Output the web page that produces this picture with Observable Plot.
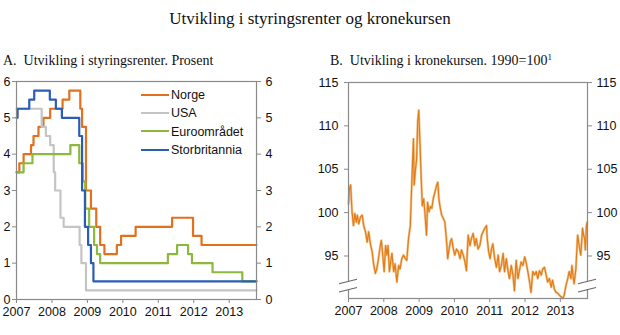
<!DOCTYPE html>
<html>
<head>
<meta charset="utf-8">
<script src="https://cdn.jsdelivr.net/npm/d3@7"></script>
<script src="https://cdn.jsdelivr.net/npm/@observablehq/plot@0.6"></script>
<style>
  html, body { margin: 0; padding: 0; background: #fff; }
  #wrap { position: relative; width: 620px; height: 335px; overflow: hidden; font-family: "Liberation Sans", Arial, sans-serif; }
  .title { position: absolute; left: 0; width: 620px; top: 9px; text-align: center; font-family: "Liberation Serif", "Times New Roman", serif; font-size: 17px; color: #111; }
  .ptitle { position: absolute; top: 53px; font-family: "Liberation Serif", "Times New Roman", serif; font-size: 14px; color: #111; white-space: nowrap; }
  .ptitle sup { font-size: 9px; vertical-align: 5px; line-height: 0; }
  .panel { position: absolute; top: 70px; }
  .legend { position: absolute; left: 141px; top: 86px; font-size: 12.5px; color: #111; }
  .legend .row { position: relative; height: 18.4px; line-height: 18.4px; white-space: nowrap; }
  .legend .sw { display: inline-block; width: 28px; height: 2px; vertical-align: middle; margin-right: 2px; position: relative; top: -1px; }
</style>
</head>
<body>
<div id="wrap">
  <div class="title">Utvikling i styringsrenter og kronekursen</div>
  <div class="ptitle" style="left:3px">A.&nbsp;&nbsp;Utvikling i styringsrenter. Prosent</div>
  <div class="ptitle" style="left:330px">B.&nbsp;&nbsp;Utvikling i kronekursen. 1990=100<sup>1</sup></div>
  <div class="panel" id="pa" style="left:0px"></div>
  <div class="panel" id="pb" style="left:310px"></div>
  <div class="legend" id="legend"></div>
</div>
<script>
// ---------- Panel A: policy rates (step series) ----------
const seriesNames = ["Norge", "USA", "Euroområdet", "Storbritannia"];
const seriesColors = ["#e2711d", "#c4c4c4", "#8db83e", "#2a5db8"];

const norgeDates = [2007.0, 2007.08, 2007.2, 2007.41, 2007.48, 2007.62, 2007.76, 2007.95, 2008.30, 2008.49, 2008.80, 2008.85, 2008.96, 2009.10, 2009.25, 2009.36, 2009.48, 2009.83, 2009.95, 2010.36, 2011.39, 2011.98, 2012.22, 2013.77];
const norgeRates = [3.5, 3.75, 4.0, 4.25, 4.5, 4.75, 5.0, 5.25, 5.5, 5.75, 5.25, 4.75, 3.0, 2.5, 2.0, 1.5, 1.25, 1.5, 1.75, 2.0, 2.25, 1.75, 1.5, 1.5];

const usaDates = [2007.0, 2007.71, 2007.83, 2007.95, 2008.05, 2008.09, 2008.24, 2008.33, 2008.78, 2008.83, 2008.96, 2013.77];
const usaRates = [5.25, 4.75, 4.5, 4.25, 3.5, 3.0, 2.25, 2.0, 1.5, 1.0, 0.25, 0.25];

const euroDates = [2007.0, 2007.2, 2007.45, 2008.52, 2008.77, 2008.87, 2008.94, 2009.05, 2009.19, 2009.27, 2009.36, 2011.27, 2011.53, 2011.84, 2011.95, 2012.53, 2013.37, 2013.77];
const euroRates = [3.5, 3.75, 4.0, 4.25, 3.75, 3.25, 2.5, 2.0, 1.5, 1.25, 1.0, 1.25, 1.5, 1.25, 1.0, 0.75, 0.5, 0.5];

const ukDates = [2007.0, 2007.03, 2007.36, 2007.5, 2007.94, 2008.11, 2008.28, 2008.77, 2008.85, 2008.93, 2009.02, 2009.10, 2009.17, 2013.77];
const ukRates = [5.0, 5.25, 5.5, 5.75, 5.5, 5.25, 5.0, 4.5, 3.0, 2.0, 1.5, 1.0, 0.5, 0.5];

const rateTicks = [0, 1, 2, 3, 4, 5, 6];
const yearTicks = [2007, 2008, 2009, 2010, 2011, 2012, 2013];

// ---------- Panel B: krone exchange rate index ----------
const kroneDates = [
2007.00, 2007.03, 2007.06, 2007.10, 2007.14, 2007.18, 2007.22, 2007.25, 2007.29, 2007.34,
2007.39, 2007.43, 2007.48, 2007.53, 2007.57, 2007.62, 2007.67, 2007.71, 2007.76, 2007.80,
2007.85, 2007.90, 2007.93, 2007.97, 2008.01, 2008.05, 2008.09, 2008.12, 2008.16, 2008.20,
2008.23, 2008.28, 2008.32, 2008.37, 2008.42, 2008.46, 2008.51, 2008.56, 2008.61, 2008.65,
2008.70, 2008.75, 2008.77, 2008.81, 2008.84, 2008.86, 2008.89, 2008.93, 2008.96, 2008.99,
2009.02, 2009.06, 2009.09, 2009.13, 2009.17, 2009.21, 2009.24, 2009.28, 2009.32, 2009.36,
2009.40, 2009.45, 2009.50, 2009.53, 2009.56, 2009.60, 2009.64, 2009.69, 2009.73, 2009.78,
2009.81, 2009.85, 2009.88, 2009.92, 2009.97, 2010.01, 2010.06, 2010.11, 2010.16, 2010.20,
2010.25, 2010.30, 2010.34, 2010.39, 2010.44, 2010.48, 2010.53, 2010.58, 2010.62, 2010.67,
2010.72, 2010.77, 2010.81, 2010.86, 2010.91, 2010.93, 2010.97, 2011.01, 2011.05, 2011.09,
2011.14, 2011.19, 2011.24, 2011.28, 2011.33, 2011.38, 2011.42, 2011.47, 2011.52, 2011.56,
2011.61, 2011.66, 2011.70, 2011.75, 2011.80, 2011.85, 2011.89, 2011.94, 2011.99, 2012.03,
2012.08, 2012.13, 2012.17, 2012.22, 2012.27, 2012.32, 2012.36, 2012.41, 2012.46, 2012.50,
2012.55, 2012.60, 2012.64, 2012.69, 2012.74, 2012.78, 2012.83, 2012.88, 2012.93, 2012.97,
2013.02, 2013.07, 2013.11, 2013.16, 2013.21, 2013.25, 2013.30, 2013.33, 2013.37, 2013.39,
2013.44, 2013.49, 2013.52, 2013.55, 2013.58, 2013.63, 2013.66, 2013.69, 2013.71, 2013.74,
2013.76];
const kroneIndex = [
101.0, 102.8, 103.2, 100.1, 98.5, 99.9, 98.9, 99.7, 98.7, 99.5,
99.7, 98.5, 97.8, 96.6, 97.8, 96.4, 95.5, 94.1, 93.0, 93.5,
94.7, 96.2, 96.8, 95.1, 93.2, 96.2, 95.1, 96.2, 93.2, 94.5,
95.3, 93.2, 94.1, 92.0, 93.9, 93.5, 94.7, 95.1, 94.7, 94.5,
97.0, 98.5, 100.8, 105.3, 108.5, 103.2, 104.7, 106.2, 110.5, 111.8,
108.5, 103.9, 100.8, 101.6, 99.7, 97.4, 101.2, 100.1, 100.7, 100.5,
101.6, 102.4, 103.2, 103.5, 101.6, 100.5, 99.7, 99.3, 98.9, 96.6,
94.7, 95.8, 96.6, 97.0, 95.8, 95.1, 95.8, 95.5, 94.7, 95.7,
95.1, 94.3, 93.3, 97.4, 96.2, 97.0, 97.6, 96.2, 97.0, 95.8,
96.2, 97.4, 97.8, 98.2, 98.5, 97.0, 95.5, 94.7, 95.8, 96.4,
94.7, 93.7, 95.1, 93.2, 93.9, 95.3, 93.2, 94.7, 93.2, 92.4,
93.9, 92.8, 91.0, 94.5, 92.4, 93.5, 94.3, 93.9, 94.9, 94.3,
93.2, 92.0, 90.8, 93.2, 92.8, 93.2, 92.4, 93.3, 92.8, 93.5,
93.7, 92.8, 92.0, 92.4, 91.4, 92.2, 91.2, 90.8, 90.7, 90.5,
90.3, 90.1, 90.5, 91.6, 92.4, 93.2, 92.4, 93.9, 92.4, 91.8,
93.5, 97.4, 96.6, 95.8, 95.1, 98.2, 97.4, 97.0, 95.7, 98.5,
98.9];
const indexTicks = [95, 100, 105, 110, 115];

// ---------- build ----------
const axisColor = "#8a8a8a";
const font = { fontFamily: "'Liberation Sans', Arial, sans-serif", fontSize: "12.5px", color: "#111", background: "transparent" };

function stepTable(dates, rates, name) {
  return dates.map((d, i) => ({ t: d, v: rates[i], s: name }));
}
const rateData = [
  ...stepTable(norgeDates, norgeRates, seriesNames[0]),
  ...stepTable(usaDates, usaRates, seriesNames[1]),
  ...stepTable(euroDates, euroRates, seriesNames[2]),
  ...stepTable(ukDates, ukRates, seriesNames[3])
];

const xEnd = 2013.77;

const plotA = Plot.plot({
  width: 310, height: 265,
  marginLeft: 16, marginRight: 54, marginTop: 11, marginBottom: 36,
  style: font,
  x: { domain: [2007, xEnd], label: null },
  y: { domain: [0, 6], label: null },
  color: { domain: seriesNames, range: seriesColors },
  marks: [
    Plot.line(rateData, { x: "t", y: "v", stroke: "s", z: "s", curve: "step-after", strokeWidth: 2.2 }),
    Plot.frame({ stroke: axisColor, strokeWidth: 1.2 }),
    Plot.axisY({ anchor: "left", ticks: rateTicks, tickSize: 4, tickPadding: 2, stroke: axisColor, tickFormat: "d", label: null }),
    Plot.axisY({ anchor: "right", ticks: rateTicks, tickSize: 4, tickPadding: 5, stroke: axisColor, tickFormat: "d", label: null }),
    Plot.axisX({ ticks: yearTicks, tickSize: 4, tickPadding: 4, stroke: axisColor, tickFormat: "d", label: null })
  ]
});
document.getElementById("pa").appendChild(plotA);

const kroneData = kroneDates.map((d, i) => ({ t: d, v: kroneIndex[i] }));

const plotB = Plot.plot({
  width: 310, height: 265,
  marginLeft: 38, marginRight: 33, marginTop: 12, marginBottom: 37,
  style: font,
  x: { domain: [2007, xEnd], label: null },
  y: { domain: [90.1, 115], label: null },
  marks: [
    Plot.line(kroneData, { x: "t", y: "v", stroke: "#f3c088", strokeWidth: 2.4 }),
    Plot.line(kroneData, { x: "t", y: "v", stroke: "#e07c16", strokeWidth: 1.1 }),
    Plot.frame({ stroke: axisColor, strokeWidth: 1.2 }),
    Plot.axisY({ anchor: "left", ticks: indexTicks, tickSize: 4, tickPadding: 6, stroke: axisColor, tickFormat: "d", label: null }),
    Plot.axisY({ anchor: "right", ticks: indexTicks, tickSize: 4, tickPadding: 5, stroke: axisColor, tickFormat: "d", label: null }),
    Plot.axisX({ ticks: yearTicks, tickSize: 4, tickPadding: 4, stroke: axisColor, tickFormat: "d", label: null })
  ]
});
document.getElementById("pb").appendChild(plotB);

// axis-break marks on panel B, placed through the plot's scales
(function () {
  const sx = plotB.scale("x"), sy = plotB.scale("y");
  const svg = d3.select(plotB);
  const yHi = sy.apply(92.0), yLo = sy.apply(91.05);
  [sx.apply(2007), sx.apply(xEnd)].forEach(x0 => {
    const w = 9, slope = 2.2;
    svg.append("path")
      .attr("d", `M${x0 - w},${yHi + slope} L${x0 + w},${yHi - slope} L${x0 + w},${yLo - slope} L${x0 - w},${yLo + slope} Z`)
      .attr("fill", "#fff");
    [yHi, yLo].forEach(yy => {
      svg.append("line")
        .attr("x1", x0 - w).attr("y1", yy + slope)
        .attr("x2", x0 + w).attr("y2", yy - slope)
        .attr("stroke", "#666").attr("stroke-width", 1.1);
    });
  });
})();

// legend
const lg = document.getElementById("legend");
seriesNames.forEach((n, i) => {
  const row = document.createElement("div");
  row.className = "row";
  row.innerHTML = `<span class="sw" style="background:${seriesColors[i]}"></span>${n}`;
  lg.appendChild(row);
});
</script>
</body>
</html>
